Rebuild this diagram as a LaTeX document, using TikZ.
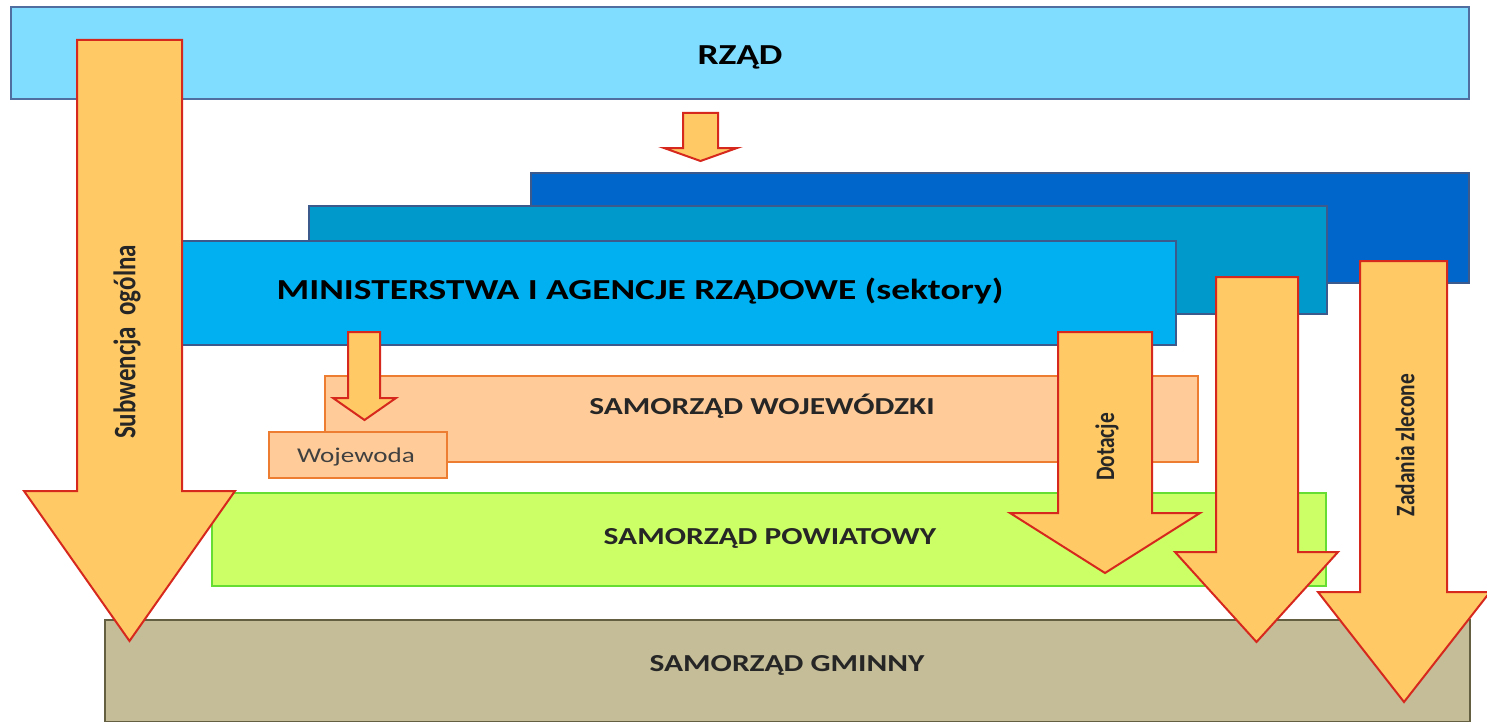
\documentclass[tikz,border=0pt]{standalone}
\usepackage{fontspec}
\setmainfont{Carlito}
\definecolor{rzadfill}{RGB}{128,221,255}
\definecolor{rzadline}{RGB}{80,110,160}
\definecolor{darkbl}{RGB}{0,102,204}
\definecolor{midbl}{RGB}{0,153,204}
\definecolor{frontbl}{RGB}{0,176,240}
\definecolor{blline}{RGB}{60,90,140}
\definecolor{arrfill}{RGB}{255,201,102}
\definecolor{arrline}{RGB}{215,40,30}
\definecolor{peach}{RGB}{255,204,153}
\definecolor{peachline}{RGB}{237,125,49}
\definecolor{lgreen}{RGB}{204,255,102}
\definecolor{greenline}{RGB}{102,221,51}
\definecolor{tan}{RGB}{196,189,151}
\definecolor{tanline}{RGB}{100,95,65}
\definecolor{txtgray}{RGB}{64,64,64}
\tikzset{
  lay/.style={line width=0.8pt},
  blockarr/.style={fill=arrfill, draw=arrline, line width=1pt, line join=miter},
  wide/.style={xscale=1.29},
  bigtxt/.style={wide, font=\fontsize{14.5}{16}\selectfont\bfseries, text=black},
  midtxt/.style={wide, font=\fontsize{12.2}{14}\selectfont\bfseries, text=black!85},
  smalltxt/.style={wide, font=\fontsize{10.5}{12}\selectfont, text=txtgray},
  rottxt/.style={rotate=90, yscale=1.25, text=black!85},
}
% #1 shaft left x, #2 shaft right x, #3 top y, #4 head base y, #5 head left x, #6 head right x, #7 tip y
\newcommand\blockarrow[7]{%
  \path[blockarr] (#1,#3) -- (#2,#3) -- (#2,#4) -- (#6,#4) -- ({(#5+#6)/2},#7) -- (#5,#4) -- (#1,#4) -- cycle;}
\begin{document}
\begin{tikzpicture}[x=0.5pt,y=-0.5pt]
\useasboundingbox (0,0) rectangle (1487,722);
% Rzad
\path[lay, fill=rzadfill, draw=rzadline] (11,7) rectangle (1469,99);
\node[bigtxt] (rzad) at (740,57) {RZĄD};
\blockarrow{683}{718}{113}{148}{664}{737}{161}
% ministries
\path[lay, fill=darkbl, draw=blline] (531,173) rectangle (1469,283);
\path[lay, fill=midbl, draw=blline] (309,206) rectangle (1327,314);
\path[lay, fill=frontbl, draw=blline] (100,241) rectangle (1176,345);
\node[bigtxt] (min) at (640,291) {MINISTERSTWA I AGENCJE RZĄDOWE (sektory)};
% wojewodzki
\path[lay, fill=peach, draw=peachline] (325,376) rectangle (1198,462);
\node[midtxt] (woj) at (762,406) {SAMORZĄD WOJEWÓDZKI};
\path[lay, fill=peach, draw=peachline] (269,432) rectangle (447,478);
\node[smalltxt] (wojewoda) at (356,457) {Wojewoda};
\blockarrow{348}{380}{332}{398}{333}{396}{420}
% powiatowy
\path[lay, fill=lgreen, draw=greenline] (212,493) rectangle (1326,586);
\node[midtxt] (pow) at (770,538) {SAMORZĄD POWIATOWY};
% gminny
\path[lay, fill=tan, draw=tanline] (105,620) rectangle (1470,722);
\node[midtxt] (gm) at (787,665) {SAMORZĄD GMINNY};
% big arrows
\blockarrow{77}{182}{40}{491}{24}{235}{641}
\node[rottxt, font=\fontsize{12.5}{14}\selectfont\bfseries] (sub) at (127,342) {Subwencja\ \ ogólna};
\blockarrow{1058}{1152}{332}{513}{1010}{1200}{573}
\node[rottxt, font=\fontsize{10.7}{12}\selectfont\bfseries] (dot) at (1107,447) {Dotacje};
\blockarrow{1216}{1298}{277}{552}{1175}{1338}{642}
\blockarrow{1360}{1447}{261}{592}{1318}{1490}{702}
\node[rottxt, font=\fontsize{10.7}{12}\selectfont\bfseries] (zad) at (1405,445) {Zadania zlecone};
\end{tikzpicture}
\end{document}
